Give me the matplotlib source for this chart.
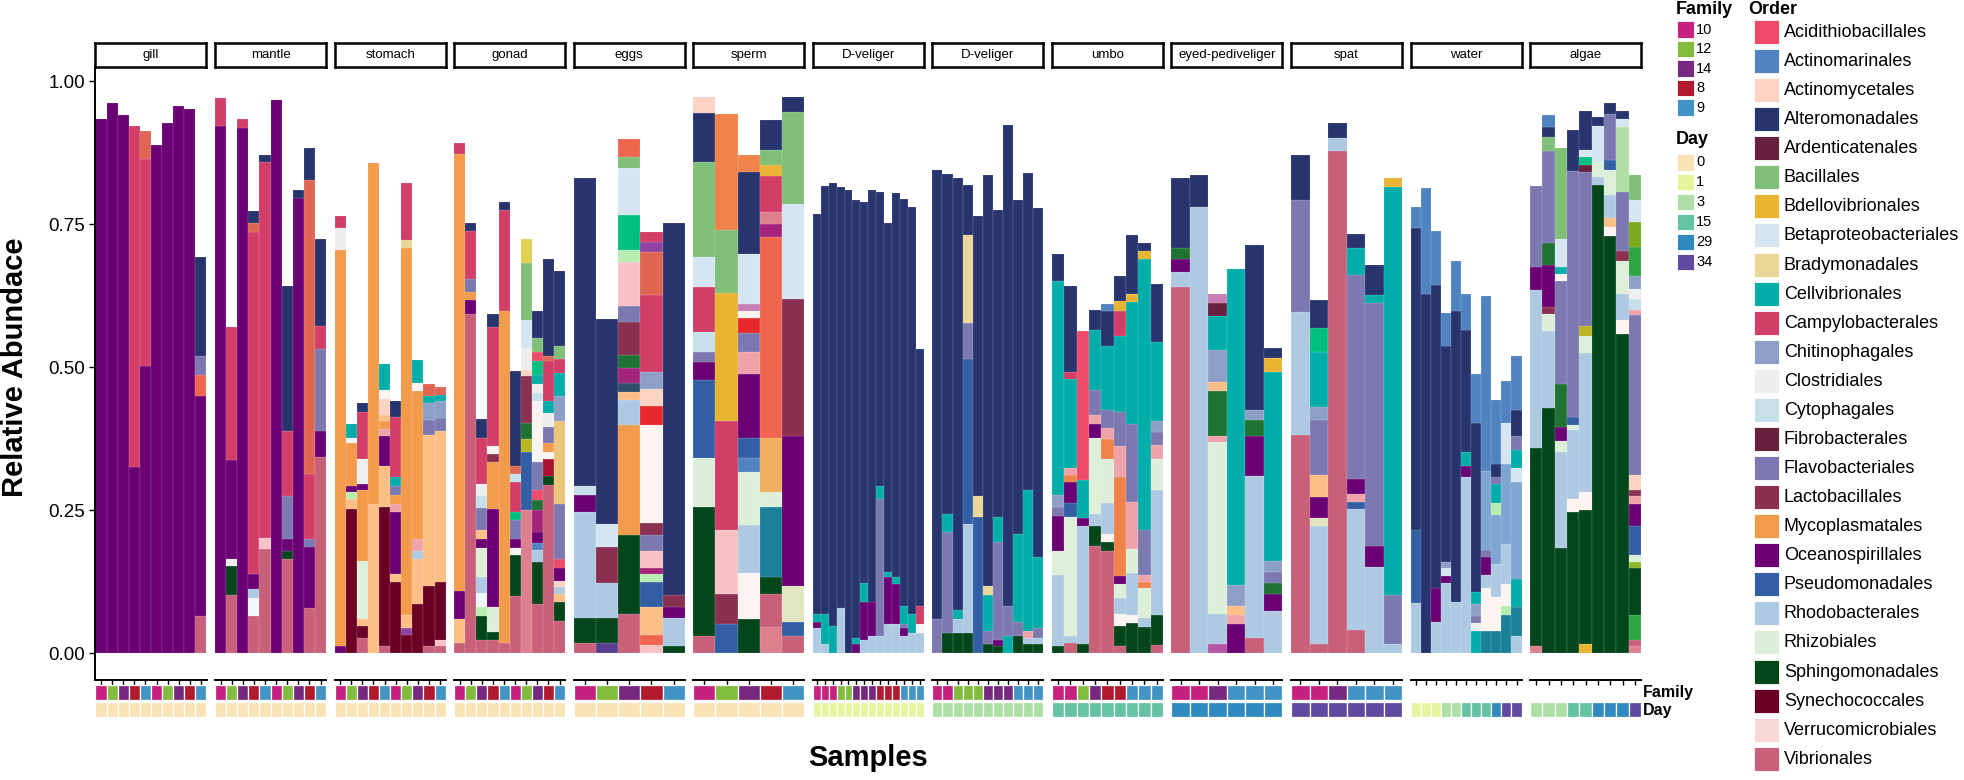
import matplotlib
matplotlib.use("Agg")
import matplotlib.pyplot as plt
from matplotlib.patches import Rectangle

plt.rcParams['font.family'] = ['Liberation Sans', 'DejaVu Sans']

W, H = 1965, 780

# ---------------- legend / palette data ----------------
ORDER_NAMES = ["Acidithiobacillales", "Actinomarinales", "Actinomycetales", "Alteromonadales",
               "Ardenticatenales", "Bacillales", "Bdellovibrionales", "Betaproteobacteriales",
               "Bradymonadales", "Cellvibrionales", "Campylobacterales", "Chitinophagales",
               "Clostridiales", "Cytophagales", "Fibrobacterales", "Flavobacteriales",
               "Lactobacillales", "Mycoplasmatales", "Oceanospirillales", "Pseudomonadales",
               "Rhodobacterales", "Rhizobiales", "Sphingomonadales", "Synechococcales",
               "Verrucomicrobiales", "Vibrionales"]
ORDER_CODES = ["Aci", "Acm", "Acy", "Alt", "Ard", "Bac", "Bde", "Bet", "Bra", "Cel", "Cam", "Chi",
               "Clo", "Cyt", "Fib", "Fla", "Lac", "Myc", "Oce", "Pse", "Rho", "Rhi", "Sph", "Syn",
               "Ver", "Vib"]
ORDER_COLORS = ["#EE4B69", "#4F84C1", "#FDD3C3", "#27346E", "#65213E", "#7FBF78", "#E8B431",
                "#D5E6F2", "#E9D698", "#00ADA8", "#D33E69", "#8E9FC7", "#EEEEEE", "#C6DFE9",
                "#66213C", "#7B79B0", "#8A3152", "#F29B4A", "#6A0074", "#325FA3", "#ADCAE2",
                "#DDEFD8", "#03461C", "#6B0025", "#F6D8D8", "#C9607A"]
# further orders present in the bars but not listed in the (truncated) legend
EXTRA_CODES = ["lo", "co", "sa", "rd", "lp", "pk", "mg", "em", "ol", "yl", "or", "tb", "mag",
               "sl", "bg", "mt", "ww", "wb", "dp", "lg", "li", "g2", "og", "bgg", "lv", "pl",
               "dr", "pu", "sp", "lo2", "sb"]
EXTRA_COLORS = ["#FDBF86", "#F0654E", "#DE6652", "#E8292B", "#FBC2C6", "#EEA2AA", "#1E7232",
                "#00BF80", "#B8B722", "#E2D050", "#F08349", "#1A8199", "#A5237A", "#2E4D68",
                "#EBC57A", "#B8EDB2", "#FBF4F0", "#F2F7FC", "#DE7F8E", "#B2DDA4", "#8CB82C",
                "#2EA543", "#7BAA1C", "#E2E6C0", "#B356A8", "#C97DB5", "#A8122E", "#8E44A0",
                "#563F8C", "#F1AE5E", "#7FA6D2"]

FAMILY_LEVELS = ["10", "12", "14", "8", "9"]
FAMILY_COLORS = ["#C8207E", "#82BC3D", "#772981", "#B11A2C", "#4293C6"]
DAY_LEVELS = ["0", "1", "3", "15", "29", "34"]
DAY_COLORS = ["#F9E3B5", "#E5F59E", "#ADDEA4", "#64C3A5", "#3089C0", "#5F4BA1"]

FACETS = ["gill", "mantle", "stomach", "gonad", "eggs", "sperm", "D-veliger", "D-veliger",
          "umbo", "eyed-pediveliger", "spat", "water", "algae"]

# ---------------- per-facet sample annotations ----------------
fam_tissue = ["10", "12", "14", "8", "9", "10", "12", "14", "8", "9"]
fam_gamete = ["10", "12", "14", "8", "9"]
fam_dvel1 = ["10", "10", "10", "12", "12", "14", "14", "14", "8", "8", "8", "9", "9", "9"]
fam_dvel2 = ["10", "10", "12", "12", "12", "14", "14", "14", "9", "9", "9"]
fam_umbo = ["10", "10", "12", "14", "8", "8", "9", "9", "9"]
fam_late = ["10", "10", "14", "9", "9", "9"]
fam_water = [None] * 11
fam_algae = [None] * 9
day_water = ["1", "1", "1", "3", "3", "15", "15", "15", "29", "34", "34"]
day_algae = ["3", "3", "3", "15", "15", "29", "29", "29", "34"]

# ---------------- stacked abundances: (order code, cumulative top) bottom->top ----------------
gill = [
    [("Oce", .934)], [("Oce", .962)], [("Oce", .941)],
    [("Oce", .325), ("Cam", .923)],
    [("Oce", .503), ("Cam", .864), ("sa", .913)],
    [("Oce", .889)], [("Oce", .928)], [("Oce", .958)], [("Oce", .952)],
    [("Vib", .065), ("Oce", .449), ("co", .486), ("Fla", .519), ("Alt", .693)],
]
mantle = [
    [("Oce", .922), ("Cam", .971)],
    [("Vib", .101), ("Sph", .152), ("Clo", .164), ("Oce", .337), ("Cam", .571)],
    [("Oce", .918), ("Cam", .934)],
    [("Vib", .065), ("wb", .097), ("Rho", .112), ("Oce", .138), ("Cam", .737), ("sa", .753), ("Alt", .774)],
    [("Vib", .182), ("lp", .201), ("Cam", .860), ("Alt", .872)],
    [("Oce", .967)],
    [("Vib", .164), ("Sph", .179), ("Oce", .199), ("Fla", .275), ("Cam", .388), ("Alt", .642)],
    [("Oce", .796), ("Alt", .811)],
    [("Vib", .078), ("Oce", .186), ("Fla", .199), ("Cam", .314), ("sa", .827), ("Alt", .884)],
    [("Vib", .343), ("Oce", .388), ("Fla", .532), ("Cam", .573), ("Alt", .725)],
]
stomach = [
    [("Oce", .013), ("Myc", .706), ("Clo", .743), ("Cam", .764)],
    [("Syn", .252), ("lo", .269), ("mt", .281), ("Oce", .293), ("Myc", .367), ("ww", .377), ("Cel", .400)],
    [("Vib", .026), ("Syn", .047), ("lo", .059), ("Rhi", .161), ("Myc", .285), ("Oce", .296), ("Clo", .339), ("Cam", .421), ("Alt", .437)],
    [("lo", .261), ("Myc", .858)],
    [("Vib", .012), ("Syn", .255), ("lo", .328), ("Oce", .380), ("pk", .392), ("Myc", .406), ("lo", .417), ("Acy", .445), ("ww", .460), ("Cel", .505)],
    [("Syn", .125), ("lo", .138), ("Oce", .247), ("pk", .261), ("Myc", .277), ("Fla", .293), ("Cel", .308), ("Cam", .413), ("Alt", .441)],
    [("Syn", .031), ("pu", .043), ("lo", .066), ("Myc", .708), ("Bra", .722), ("Cam", .823)],
    [("Syn", .086), ("lo", .164), ("Rho", .179), ("pk", .199), ("Myc", .458), ("ww", .472), ("Cel", .512)],
    [("Vib", .012), ("Syn", .118), ("lo", .382), ("Fla", .408), ("Chi", .437), ("Cel", .449), ("sa", .470)],
    [("Vib", .012), ("lp", .023), ("Syn", .125), ("lo", .388), ("Fla", .412), ("Chi", .441), ("Cel", .452), ("sa", .466)],
]
gonad = [
    [("Vib", .017), ("lo", .060), ("Oce", .108), ("Myc", .874), ("Cam", .892)],
    [("Vib", .594), ("Oce", .618), ("Myc", .632), ("Fla", .655), ("Cam", .739), ("Alt", .753)],
    [("Vib", .023), ("Sph", .065), ("mt", .080), ("wb", .105), ("Rho", .133), ("Rhi", .183), ("Oce", .199), ("lo", .215), ("Fla", .254), ("Cyt", .275), ("Clo", .296), ("Cam", .376), ("Alt", .410)],
    [("Vib", .023), ("Sph", .037), ("Rhi", .080), ("Oce", .252), ("Myc", .335), ("Lac", .349), ("ww", .363), ("Cam", .571), ("Alt", .594)],
    [("Vib", .017), ("Myc", .599), ("Cam", .776), ("Alt", .789)],
    [("Vib", .099), ("Sph", .172), ("ww", .183), ("Oce", .200), ("Fla", .232), ("em", .247), ("Cam", .299), ("Cyt", .314), ("sa", .328), ("Alt", .493)],
    [("dp", .250), ("Pse", .351), ("ol", .374), ("mg", .403), ("Lac", .484), ("Acy", .495), ("Clo", .533), ("Bet", .583), ("Bac", .683), ("yl", .725)],
    [("Vib", .086), ("Sph", .160), ("Rho", .181), ("Acm", .193), ("Oce", .211), ("mag", .250), ("mg", .268), ("Aci", .285), ("Fla", .335), ("ww", .441), ("Cyt", .455), ("Clo", .470), ("Cel", .486), ("em", .511), ("Aci", .527), ("Bac", .552), ("Alt", .598)],
    [("Vib", .294), ("Sph", .310), ("dr", .339), ("ww", .351), ("Myc", .367), ("Fla", .396), ("Clo", .420), ("Cel", .441), ("Cam", .511), ("sa", .520), ("Alt", .689)],
    [("Vib", .056), ("Sph", .090), ("lo", .104), ("Rho", .115), ("Acy", .126), ("Oce", .148), ("Aci", .164), ("Fla", .261), ("bg", .406), ("Chi", .450), ("Cel", .490), ("Cam", .515), ("Bac", .537), ("Alt", .668)],
]
eggs = [
    [("Vib", .017), ("Sph", .061), ("Rho", .246), ("Oce", .277), ("Cyt", .293), ("Alt", .832)],
    [("sp", .017), ("Sph", .061), ("Rho", .123), ("Lac", .186), ("Bet", .226), ("Alt", .585)],
    [("Vib", .069), ("Sph", .207), ("Myc", .399), ("Rho", .442), ("lo", .456), ("sl", .472), ("mag", .499), ("mg", .521), ("Lac", .580), ("Fla", .608), ("lp", .685), ("mt", .706), ("em", .767), ("Bet", .848), ("Bac", .868), ("co", .899)],
    [("lp", .014), ("co", .031), ("lo", .080), ("Pse", .125), ("mt", .138), ("mag", .148), ("lp", .179), ("Fla", .207), ("Lac", .228), ("ww", .399), ("rd", .433), ("Acy", .462), ("Chi", .491), ("Cam", .626), ("sa", .702), ("pu", .720), ("Cam", .737)],
    [("Sph", .012), ("Rho", .061), ("Oce", .080), ("Lac", .101), ("Alt", .753)],
]
sperm = [
    [("Vib", .030), ("Sph", .255), ("Rhi", .341), ("Pse", .477), ("Oce", .509), ("Fla", .527), ("Cyt", .562), ("Cam", .641), ("Bet", .693), ("Bac", .860), ("Alt", .945), ("Acy", .973)],
    [("Pse", .051), ("Lac", .104), ("lp", .215), ("Cam", .406), ("Bde", .630), ("Bac", .741), ("or", .944)],
    [("Sph", .059), ("ww", .140), ("Rho", .224), ("Rhi", .317), ("Acm", .341), ("Pse", .376), ("Oce", .489), ("pk", .527), ("Fla", .560), ("rd", .587), ("ww", .599), ("pl", .611), ("Bet", .698), ("Alt", .842), ("or", .872)],
    [("dp", .045), ("Vib", .103), ("Sph", .133), ("tb", .255), ("Rhi", .281), ("lo2", .376), ("co", .728), ("mag", .751), ("dp", .772), ("Cam", .835), ("Bde", .854), ("Bac", .881), ("Alt", .932)],
    [("Vib", .030), ("Pse", .055), ("bgg", .117), ("Oce", .380), ("Lac", .620), ("Bet", .786), ("Bac", .946), ("Alt", .973)],
]
dveliger1 = [
    [("Rho", .043), ("Oce", .055), ("Cel", .068), ("Alt", .768)],
    [("Rho", .015), ("Cel", .068), ("Alt", .817)],
    [("Cel", .047), ("Alt", .823)],
    [("Rho", .078), ("Alt", .815)],
    [("Alt", .810)],
    [("Oce", .015), ("Cel", .027), ("Alt", .792)],
    [("Rho", .023), ("Oce", .090), ("Cel", .122), ("Alt", .789)],
    [("Rho", .030), ("Oce", .090), ("Alt", .811)],
    [("Rho", .030), ("Fla", .269), ("Cel", .293), ("Alt", .807)],
    [("Rho", .050), ("Oce", .133), ("Cel", .142), ("Alt", .753)],
    [("Rho", .050), ("Oce", .121), ("Cel", .133), ("Alt", .805)],
    [("Rho", .030), ("Oce", .043), ("Fla", .051), ("Cel", .083), ("Alt", .794)],
    [("Rho", .035), ("Cel", .068), ("Alt", .780)],
    [("Rho", .035), ("ww", .051), ("Cam", .082), ("Alt", .532)],
]
dveliger2 = [
    [("Fla", .059), ("Alt", .845)],
    [("Sph", .035), ("Fla", .211), ("Cel", .243), ("Alt", .839)],
    [("Sph", .035), ("Rho", .059), ("Cel", .076), ("Alt", .831)],
    [("Sph", .035), ("Rho", .226), ("Pse", .515), ("Fla", .577), ("Bra", .732), ("Alt", .819)],
    [("Pse", .238), ("Bra", .275), ("Alt", .764)],
    [("Sph", .015), ("Fla", .039), ("Cel", .101), ("Bra", .117), ("Alt", .837)],
    [("Sph", .012), ("Oce", .023), ("Fla", .195), ("Cel", .238), ("Alt", .776)],
    [("Cel", .030), ("Fla", .082), ("Alt", .924)],
    [("Sph", .030), ("Fla", .055), ("Cel", .208), ("Alt", .792)],
    [("Sph", .015), ("Rho", .027), ("pk", .039), ("Cel", .286), ("Alt", .840)],
    [("Sph", .015), ("Rho", .027), ("Fla", .043), ("Cel", .168), ("Alt", .778)],
]
umbo = [
    [("Sph", .012), ("Rho", .137), ("Rhi", .179), ("Oce", .239), ("Fla", .255), ("Chi", .277), ("Cel", .651), ("Alt", .698)],
    [("Vib", .017), ("Rho", .030), ("Rhi", .238), ("Pse", .263), ("Oce", .300), ("or", .312), ("pk", .324), ("Cel", .480), ("Cam", .491), ("Alt", .642)],
    [("Sph", .015), ("Rho", .222), ("Oce", .236), ("Cel", .302), ("Aci", .563)],
    [("Vib", .187), ("Sph", .222), ("Rho", .244), ("Rhi", .377), ("Oce", .400), ("pk", .417), ("Fla", .460), ("Cel", .566), ("Alt", .601)],
    [("Vib", .179), ("Sph", .195), ("ww", .208), ("Rho", .263), ("Rhi", .339), ("or", .374), ("pk", .394), ("Fla", .425), ("Cel", .537), ("Alt", .598), ("Acm", .610)],
    [("Vib", .012), ("Sph", .047), ("ww", .068), ("Rho", .096), ("Rhi", .121), ("Oce", .135), ("or", .308), ("pk", .363), ("Fla", .421), ("Cel", .555), ("Cam", .599), ("Bde", .616), ("Alt", .659)],
    [("Sph", .052), ("ww", .066), ("Rho", .140), ("Rhi", .182), ("pk", .265), ("Fla", .400), ("Cel", .615), ("Bde", .628), ("Alt", .731)],
    [("Sph", .045), ("Rho", .062), ("Rhi", .113), ("or", .125), ("pk", .137), ("Fla", .216), ("Cel", .689), ("Bde", .704), ("Alt", .718)],
    [("Vib", .014), ("Sph", .066), ("Rho", .285), ("Rhi", .339), ("pk", .364), ("Fla", .386), ("Chi", .406), ("Cel", .544), ("Alt", .646)],
]
eyed = [
    [("Vib", .641), ("Rho", .667), ("Oce", .690), ("mg", .708), ("Alt", .831)],
    [("Rho", .780), ("Alt", .836)],
    [("lv", .016), ("Rho", .068), ("Rhi", .369), ("pk", .380), ("mg", .458), ("lo", .474), ("Chi", .530), ("Cel", .589), ("Ard", .612), ("pl", .628)],
    [("Oce", .051), ("pk", .066), ("lo", .083), ("Chi", .119), ("Cel", .672)],
    [("Vib", .027), ("Rho", .310), ("Oce", .380), ("mg", .407), ("Chi", .425), ("Alt", .714)],
    [("Rho", .074), ("Oce", .104), ("mg", .122), ("Fla", .142), ("Chi", .161), ("Cel", .491), ("Bde", .516), ("Alt", .534)],
]
spat = [
    [("Vib", .382), ("Rho", .597), ("Fla", .792), ("Alt", .871)],
    [("Vib", .016), ("Rho", .222), ("bgg", .236), ("Oce", .273), ("lo", .312), ("Fla", .407), ("Chi", .431), ("Cel", .527), ("em", .569), ("Alt", .618)],
    [("Vib", .879), ("Rho", .901), ("Alt", .928)],
    [("Vib", .041), ("Rho", .252), ("Pse", .265), ("pk", .278), ("Oce", .304), ("Fla", .661), ("Cel", .708), ("Alt", .733)],
    [("Rho", .150), ("Oce", .187), ("Fla", .612), ("Cel", .626), ("Alt", .679)],
    [("Rho", .016), ("Fla", .101), ("Cel", .815), ("Bde", .831)],
]
water = [
    [("Rho", .088), ("Pse", .216), ("Alt", .743), ("Acm", .780)],
    [("Alt", .629), ("Acm", .814)],
    [("Rho", .055), ("Oce", .113), ("Alt", .644), ("Acm", .739)],
    [("Rho", .122), ("Oce", .135), ("Bet", .148), ("Chi", .160), ("Alt", .538), ("Acm", .595)],
    [("Rho", .090), ("Alt", .598), ("Acm", .686)],
    [("Rho", .308), ("Oce", .328), ("Cel", .351), ("Alt", .566), ("Acm", .628)],
    [("Cel", .039), ("Clo", .052), ("Fla", .065), ("Chi", .086), ("Cel", .107), ("Alt", .402), ("Acm", .488)],
    [("tb", .039), ("ww", .113), ("Rho", .137), ("Oce", .168), ("Fla", .180), ("sb", .318), ("Acm", .625)],
    [("tb", .039), ("ww", .098), ("Rho", .156), ("sb", .242), ("mt", .262), ("Cel", .296), ("Fla", .308), ("Alt", .331), ("Acm", .442)],
    [("tb", .066), ("mt", .082), ("ww", .120), ("Rho", .190), ("sb", .330), ("Bet", .402), ("Acm", .476)],
    [("Rho", .030), ("tb", .080), ("Cel", .130), ("sb", .300), ("Bet", .324), ("Cel", .355), ("Fla", .380), ("Alt", .425), ("Acm", .520)],
]
algae = [
    [("dp", .013), ("Sph", .359), ("Rho", .636), ("Oce", .675), ("Fla", .817)],
    [("Sph", .429), ("Rho", .564), ("Rhi", .593), ("Lac", .606), ("Oce", .679), ("mg", .718), ("Fla", .878), ("Bac", .903), ("Alt", .920), ("Acm", .941)],
    [("Sph", .183), ("Rho", .351), ("Rhi", .371), ("Oce", .395), ("mg", .470), ("Fla", .651), ("ww", .663), ("Cel", .676), ("Bet", .725), ("Bac", .884)],
    [("Sph", .247), ("ww", .269), ("Rho", .390), ("Rhi", .399), ("Pse", .413), ("Fla", .844), ("Alt", .915)],
    [("Bde", .016), ("Sph", .250), ("ww", .281), ("Rho", .525), ("Rhi", .555), ("ol", .573), ("Fla", .842), ("Ard", .854), ("em", .868), ("Bet", .881), ("Alt", .949)],
    [("Sph", .819), ("Rho", .833), ("Rhi", .860), ("Bet", .922), ("Alt", .938)],
    [("Sph", .729), ("ww", .745), ("lo", .762), ("Rho", .801), ("Rhi", .845), ("Pse", .862), ("Fla", .944), ("Alt", .962)],
    [("Sph", .558), ("ww", .583), ("Rho", .628), ("Rhi", .686), ("Lac", .704), ("Fla", .806), ("lg", .920), ("Bet", .934), ("Alt", .948)],
    [("dp", .012), ("Vib", .023), ("g2", .066), ("Sph", .148), ("li", .160), ("Rhi", .172), ("Pse", .222), ("Oce", .261), ("pk", .275), ("Lac", .285), ("Acy", .312), ("Fla", .591), ("pk", .601), ("Cyt", .620), ("Clo", .637), ("Chi", .659), ("g2", .710), ("og", .754), ("Bet", .793), ("Bac", .836)],
]

STACKS = [gill, mantle, stomach, gonad, eggs, sperm, dveliger1, dveliger2, umbo, eyed, spat, water, algae]
FAMILIES = [fam_tissue] * 4 + [fam_gamete] * 2 + [fam_dvel1, fam_dvel2, fam_umbo, fam_late, fam_late, fam_water, fam_algae]
DAYS = [["0"] * 10] * 4 + [["0"] * 5] * 2 + [["1"] * 14, ["3"] * 11, ["15"] * 9, ["29"] * 6, ["34"] * 6, day_water, day_algae]

# ---------------- drawing ----------------
color_of = dict(zip(ORDER_CODES, ORDER_COLORS))
color_of.update(dict(zip(EXTRA_CODES, EXTRA_COLORS)))
fam_col = dict(zip(FAMILY_LEVELS, FAMILY_COLORS))
day_col = dict(zip(DAY_LEVELS, DAY_COLORS))

fig = plt.figure(figsize=(W / 100, H / 100), dpi=100)


def px_axes(x0, y0, x1, y1, **kw):
    return fig.add_axes([x0 / W, 1 - y1 / H, (x1 - x0) / W, (y1 - y0) / H], **kw)


PANEL_X0, PANEL_STEP, PANEL_W = 95.5, 119.55, 111.0
PANEL_TOP, PANEL_BOT = 68.0, 680.0
STRIP_TOP = 43.0
Y0_PIX, Y1_PIX = 653.0, 81.5
unit = (Y0_PIX - Y1_PIX)
ylo = -(PANEL_BOT - Y0_PIX) / unit
yhi = 1 + (Y1_PIX - PANEL_TOP) / unit
SEAM = (1, 1, 1, 0.28)

for k, (name, stack) in enumerate(zip(FACETS, STACKS)):
    x0 = PANEL_X0 + k * PANEL_STEP
    x1 = x0 + PANEL_W
    n = len(stack)
    ax = px_axes(x0, PANEL_TOP, x1, PANEL_BOT)
    for i, segs in enumerate(stack):
        bottom = 0.0
        for code, top in segs:
            ax.bar(i, top - bottom, bottom=bottom, width=1.0, color=color_of[code],
                   edgecolor=SEAM, linewidth=0.35)
            bottom = top
    ax.set_xlim(-0.5, n - 0.5)
    ax.set_ylim(ylo, yhi)
    for s in ["top", "right"]:
        ax.spines[s].set_visible(False)
    ax.spines["bottom"].set_linewidth(1.4)
    ax.set_xticks(range(n))
    ax.set_xticklabels([])
    ax.tick_params(axis="x", length=3.5, width=1.0, direction="out")
    if k == 0:
        ax.spines["left"].set_linewidth(1.4)
        ax.set_yticks([0, 0.25, 0.5, 0.75, 1.0])
        ax.set_yticklabels(["0.00", "0.25", "0.50", "0.75", "1.00"], fontsize=13.5)
        ax.tick_params(axis="y", length=4, width=1.0)
    else:
        ax.spines["left"].set_visible(False)
        ax.set_yticks([])
    ax.patch.set_alpha(0)

    # strip
    sax = px_axes(x0, STRIP_TOP, x1, PANEL_TOP - 1)
    sax.set_xticks([]); sax.set_yticks([])
    for s in sax.spines.values():
        s.set_linewidth(1.8)
    sax.text(0.5, 0.5, name, ha="center", va="center", fontsize=9.5, transform=sax.transAxes)

    # annotation tiles
    aax = px_axes(x0, 684, x1, 718)
    fams = FAMILIES[k]
    days = DAYS[k]
    for i in range(n):
        if fams[i] is not None:
            aax.bar(i, 14.6, bottom=1.0, width=1.0, color=fam_col[fams[i]],
                    edgecolor="white", linewidth=0.9)
        aax.bar(i, 14.6, bottom=18.0, width=1.0, color=day_col[days[i]],
                edgecolor="white", linewidth=0.9)
    aax.set_xlim(-0.5, n - 0.5)
    aax.set_ylim(34, 0)
    aax.axis("off")

# overlay for labels and legends (pixel coordinates)
ov = px_axes(0, 0, W, H)
ov.set_xlim(0, W)
ov.set_ylim(H, 0)
ov.axis("off")
ov.patch.set_alpha(0)

ov.text(15, 367, "Relative Abundace", rotation=90, ha="center", va="center",
        fontsize=21, fontweight="bold")
ov.text(868, 758, "Samples", ha="center", va="center", fontsize=21, fontweight="bold")
ov.text(1643, 693, "Family", ha="left", va="center", fontsize=11.5, fontweight="bold")
ov.text(1643, 710, "Day", ha="left", va="center", fontsize=11.5, fontweight="bold")

# Family legend
ov.text(1676, 9, "Family", ha="left", va="center", fontsize=13, fontweight="bold")
for j, (lab, col) in enumerate(zip(FAMILY_LEVELS, FAMILY_COLORS)):
    yt = 21 + j * 19.6
    ov.add_patch(Rectangle((1677, yt), 17, 16.5, facecolor=col, edgecolor="white", linewidth=0.6))
    ov.text(1696, yt + 8.5, lab, ha="left", va="center", fontsize=10.5)

# Day legend
ov.text(1676, 140, "Day", ha="left", va="center", fontsize=13, fontweight="bold")
for j, (lab, col) in enumerate(zip(DAY_LEVELS, DAY_COLORS)):
    yt = 154 + j * 19.9
    ov.add_patch(Rectangle((1677, yt), 17, 16.5, facecolor=col, edgecolor="white", linewidth=0.6))
    ov.text(1696, yt + 8.5, lab, ha="left", va="center", fontsize=10.5)

# Order legend
ov.text(1748, 9, "Order", ha="left", va="center", fontsize=13, fontweight="bold")
for j, (lab, col) in enumerate(zip(ORDER_NAMES, ORDER_COLORS)):
    yt = 20 + j * 29.07
    ov.add_patch(Rectangle((1754.5, yt), 24.5, 24, facecolor=col, edgecolor="white", linewidth=0.6))
    ov.text(1784, yt + 12.5, lab, ha="left", va="center", fontsize=13)

fig.savefig("out.png", dpi=100)
